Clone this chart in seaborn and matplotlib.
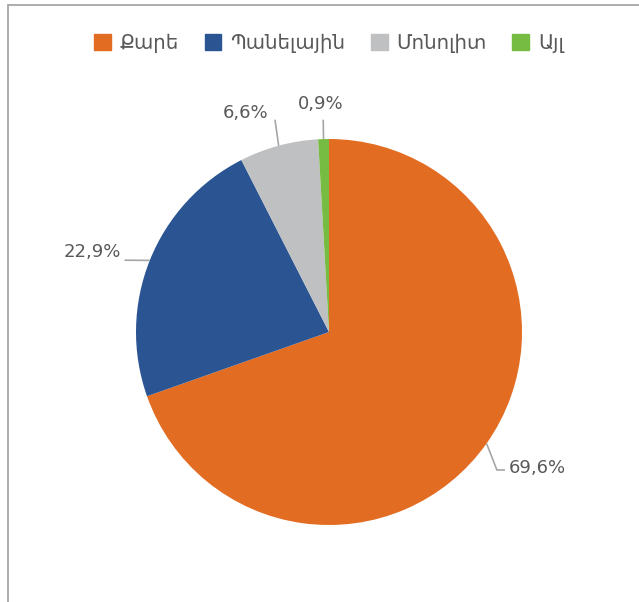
import numpy as np
import matplotlib
matplotlib.use("Agg")
import matplotlib.pyplot as plt
import matplotlib.patches as mpatches
import seaborn as sns

# data
categories = ["Քարե", "Պանելային", "Մոնոլիտ", "Այլ"]
shares = [69.6, 22.9, 6.6, 0.9]
colors = ["#E36C23", "#2A5592", "#BFC0C2", "#77BC42"]

sns.set_theme(style="white")
plt.rcParams["font.family"] = ["DejaVu Sans"]
text_color = "#595959"

fig = plt.figure(figsize=(6.39, 6.02), dpi=100)
ax = fig.add_axes([136 / 639, 77 / 602, 386 / 639, 386 / 602])

wedges, _ = ax.pie(shares, colors=colors, startangle=90, counterclock=False,
                   wedgeprops=dict(linewidth=0))
ax.set_xlim(-1, 1)
ax.set_ylim(-1, 1)
ax.set_aspect("auto")
ax.axis("off")

# label placement: (text pos, elbow pos, ha) in radius units
label_spec = [
    ((0.93, -0.705), [(0.87, -0.715), (0.912, -0.715)], "left"),
    ((-1.08, 0.415), [(-1.06, 0.372)], "right"),
    ((-0.43, 1.135), [(-0.28, 1.10)], "center"),
    ((-0.045, 1.18), [(-0.03, 1.10)], "center"),
]

for w, val, (tpos, elbow, ha) in zip(wedges, shares, label_spec):
    ang = np.deg2rad((w.theta1 + w.theta2) / 2)
    x0, y0 = np.cos(ang), np.sin(ang)
    pts = [(x0, y0)] + elbow
    ax.plot([p[0] for p in pts], [p[1] for p in pts], color="#A6A6A6",
            lw=1.2, clip_on=False, solid_capstyle="butt")
    ax.text(tpos[0], tpos[1], f"{val:.1f}%".replace(".", ","), ha=ha, va="center",
            fontsize=13, color=text_color, clip_on=False)

handles = [mpatches.Patch(color=c, label=l) for c, l in zip(colors, categories)]
fig.legend(handles=handles, loc="center", bbox_to_anchor=(0.515, 1 - 43 / 602),
           ncol=4, frameon=False, fontsize=14.2, labelcolor=text_color,
           handlelength=0.85, handleheight=0.85, handletextpad=0.45, columnspacing=1.3)

# chart border (top and left edges visible)
fig.add_artist(mpatches.Rectangle((8 / 639, -0.1), 1.2, 1 - 5 / 602 + 0.1,
                                  transform=fig.transFigure, fill=False,
                                  edgecolor="#A6A6A6", lw=1.3))

fig.savefig("out.png", dpi=100)
